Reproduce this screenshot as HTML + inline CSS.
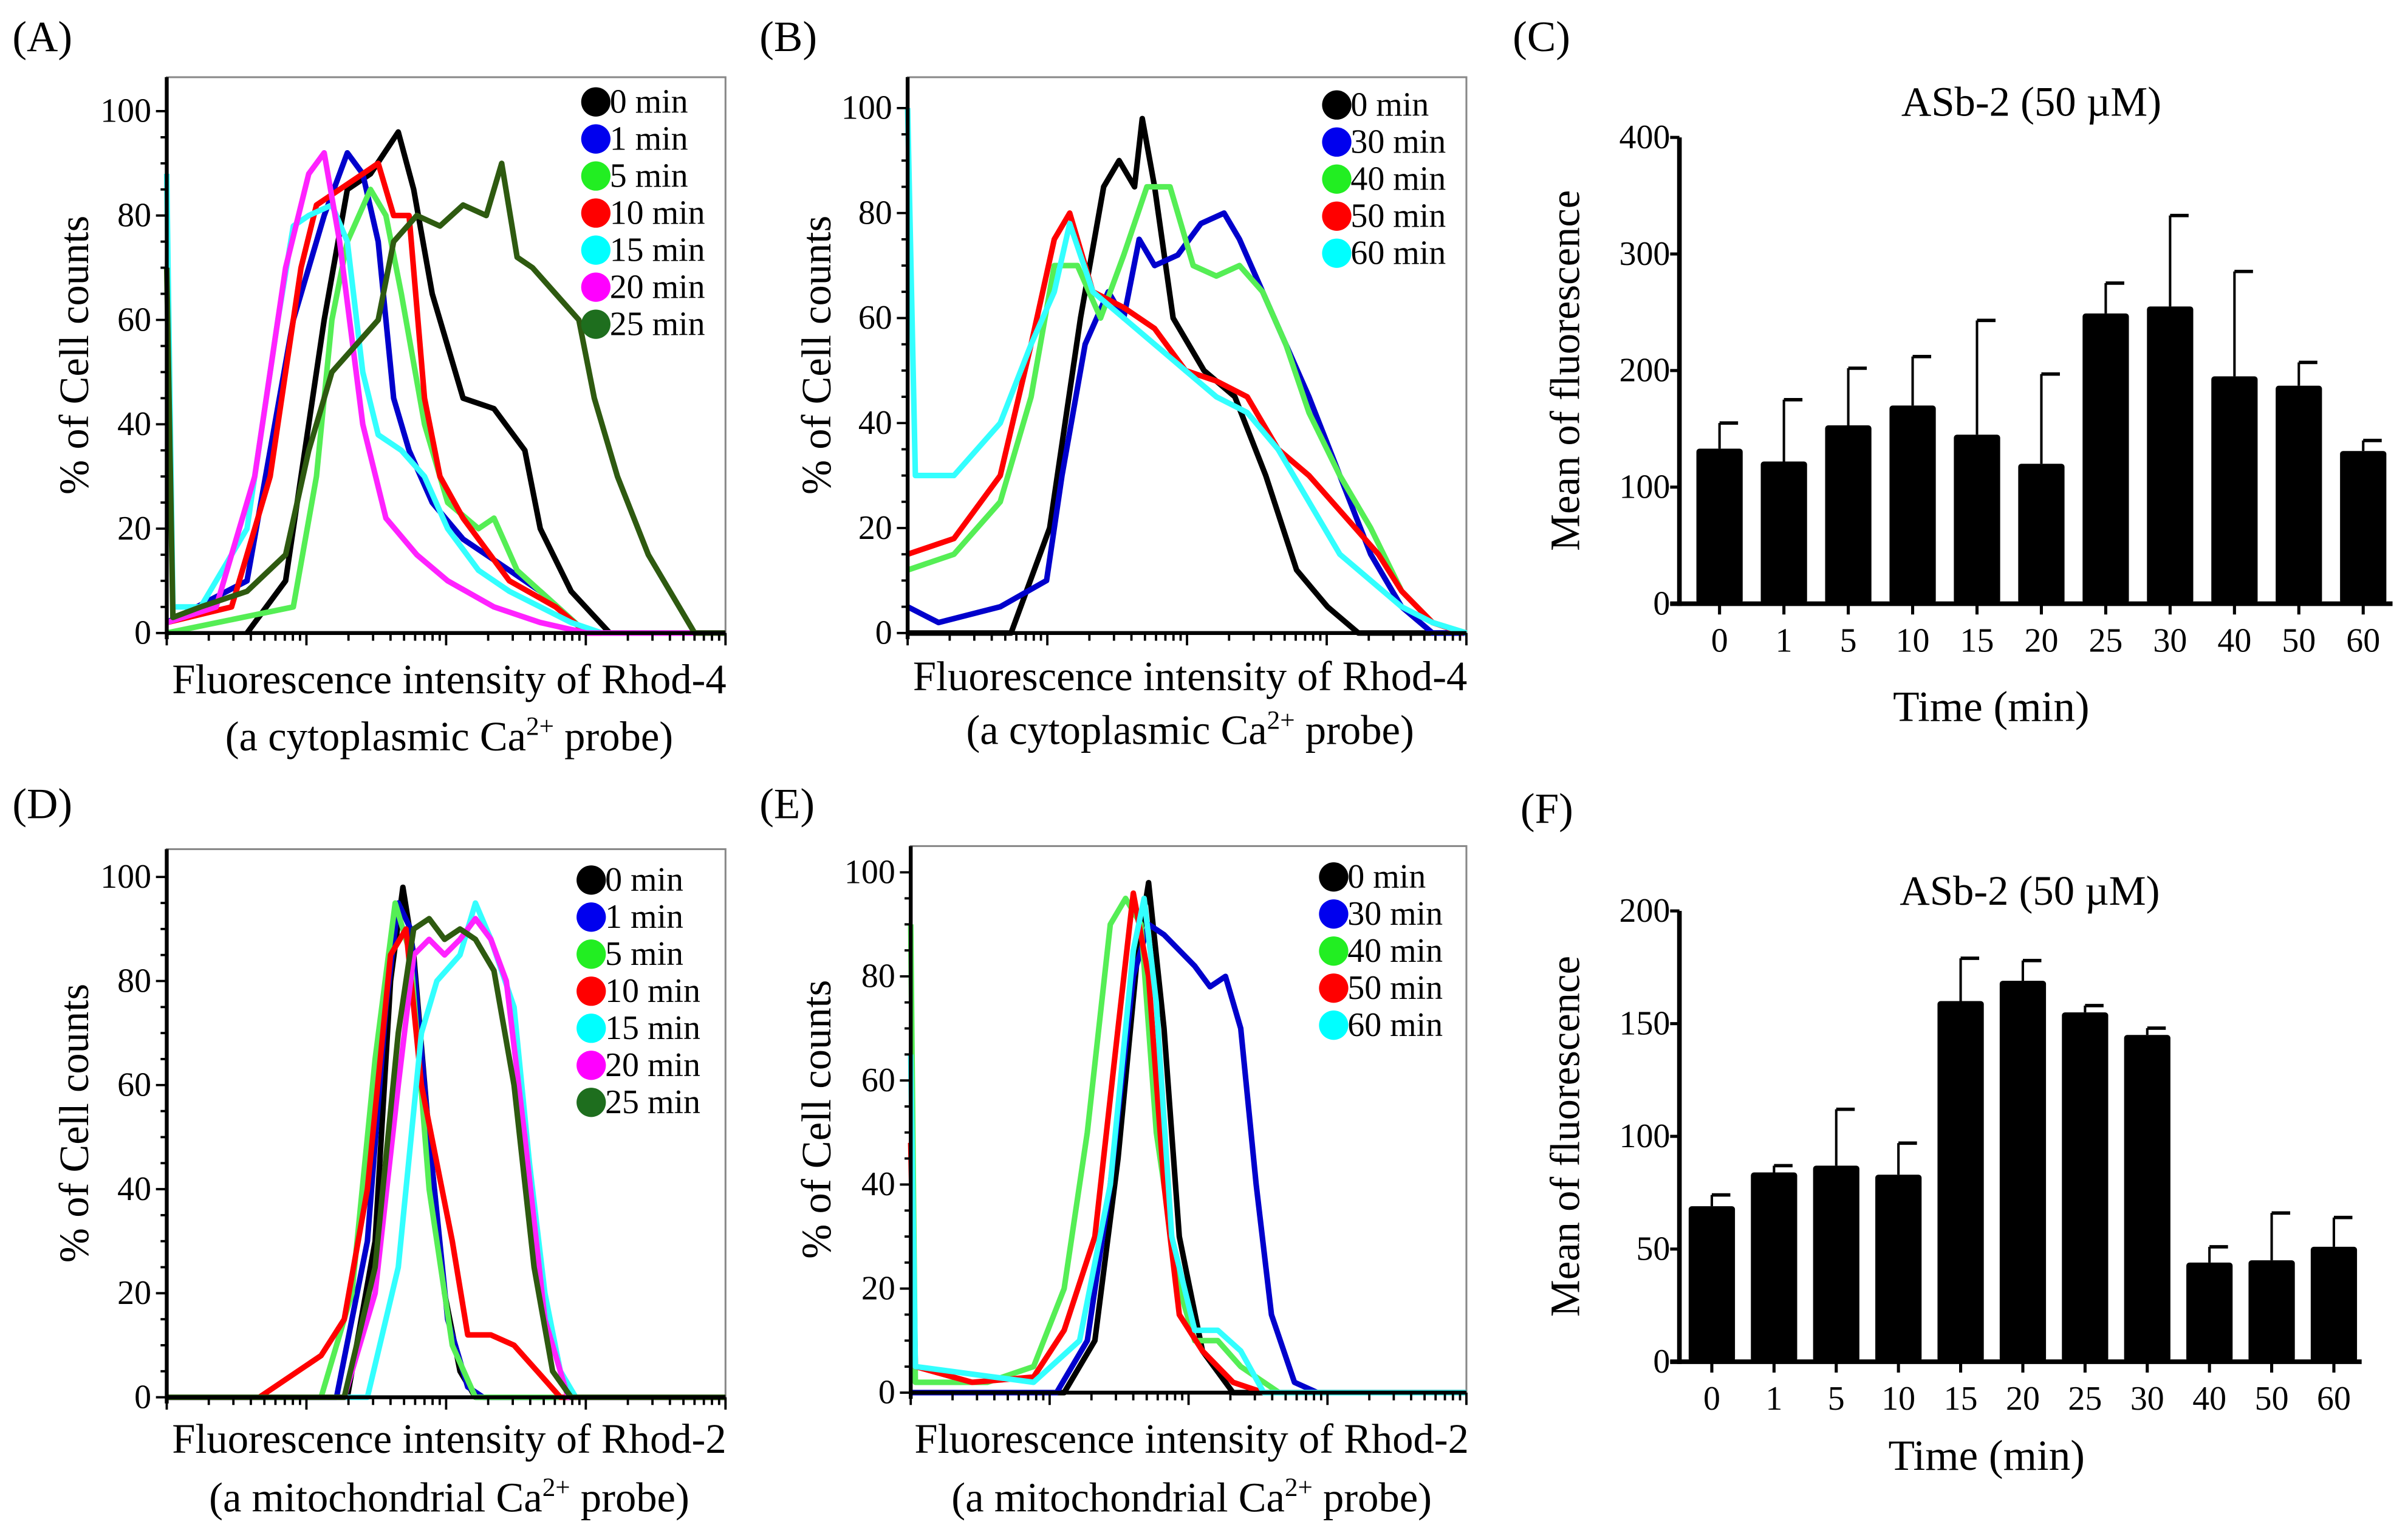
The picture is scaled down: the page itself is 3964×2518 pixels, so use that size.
<!DOCTYPE html>
<html><head><meta charset="utf-8"><style>
html,body{margin:0;padding:0;background:#fff}
svg, svg text{font-family:"Liberation Serif","Times New Roman","DejaVu Serif",serif}
</style></head><body>
<svg id="fig" width="3964" height="2513" viewBox="0 0 1560 989" font-family="Liberation Serif, Times New Roman, DejaVu Serif, serif" xmlns="http://www.w3.org/2000/svg"></svg>
<script>
// ===== Data =====
const legendA = ["0 min","1 min","5 min","10 min","15 min","20 min","25 min"];
const colorsA = ["#000","#0000ee","#22ee22","#ff0000","#00ffff","#ff00ff","#1e6e1e"];
const legendB = ["0 min","30 min","40 min","50 min","60 min"];
const colorsB = ["#000","#0000ee","#22ee22","#ff0000","#00ffff"];
const lineColorsA = ["#000","#0000cc","#55ee55","#ff0000","#33ffff","#ff22ff","#2e5a10"];
const lineColorsB = ["#000","#0000cc","#55ee55","#ff0000","#33ffff"];
// Panel A (x = channel 0-362, y = % of cell counts)
const a0 = [[52,0],[77,10],[102,60],[117,85],[132,88],[150,96],[160,85],[172,65],[192,45],[212,43],[232,35],[242,20],[262,8],[287,0],[362,0]];
const a1 = [[0,2],[52,10],[82,60],[102,80],[117,92],[127,88],[137,75],[147,45],[157,35],[172,25],[192,18],[222,12],[242,8],[272,0],[362,0]];
const a5 = [[0,0],[82,5],[97,30],[107,60],[117,75],[132,85],[142,80],[152,65],[167,40],[182,25],[202,20],[212,22],[227,12],[242,8],[272,0],[362,0]];
const a10 = [[0,2],[42,5],[67,30],[87,70],[97,82],[112,85],[127,88],[137,90],[147,80],[157,80],[167,45],[177,30],[192,22],[222,10],[252,5],[272,0],[362,0]];
const a15 = [[0,88],[4,5],[22,5],[52,20],[72,60],[82,78],[92,80],[107,82],[117,75],[127,50],[137,38],[152,35],[167,30],[182,20],[202,12],[222,8],[242,5],[262,2],[282,0],[362,0]];
const a20 = [[0,2],[32,5],[57,30],[77,70],[92,88],[102,92],[112,75],[127,40],[142,22],[162,15],[182,10],[212,5],[242,2],[272,0],[362,0]];
const a25 = [[0,70],[4,3],[22,5],[52,8],[77,15],[92,35],[107,50],[122,55],[137,60],[147,75],[162,80],[177,78],[192,82],[207,80],[217,90],[227,72],[237,70],[252,65],[267,60],[277,45],[292,30],[312,15],[332,5],[342,0],[362,0]];
const seriesA = [a0,a1,a5,a10,a15,a20,a25];
// Panel B
const b0 = [[0,0],[67,0],[92,20],[112,60],[127,85],[137,90],[147,85],[152,98],[160,85],[172,60],[192,50],[212,45],[232,30],[252,12],[272,5],[292,0],[362,0]];
const b30 = [[0,5],[20,2],[60,5],[90,10],[100,30],[115,55],[130,65],[140,60],[150,75],[160,70],[175,72],[190,78],[205,80],[215,75],[230,65],[245,55],[260,45],[280,30],[300,15],[320,5],[340,0],[362,0]];
const b40 = [[0,12],[30,15],[60,25],[80,45],[95,70],[110,70],[125,60],[140,72],[155,85],[170,85],[185,70],[200,68],[215,70],[230,65],[245,55],[260,42],[280,30],[300,20],[320,8],[340,2],[362,0]];
const b50 = [[0,15],[30,18],[60,30],[80,55],[95,75],[105,80],[120,65],[140,62],[160,58],[180,50],[200,48],[220,45],[240,35],[260,30],[275,25],[290,20],[305,15],[320,8],[340,2],[360,0]];
const b60 = [[0,100],[5,30],[30,30],[60,40],[80,55],[95,65],[105,78],[120,65],[140,60],[160,55],[180,50],[200,45],[220,42],[240,35],[260,25],[280,15],[300,10],[320,5],[340,2],[362,0]];
const seriesB = [b0,b30,b40,b50,b60];
// Panel D
const d0 = [[0,0],[117,0],[135,30],[145,80],[153,98],[160,85],[170,50],[180,20],[190,5],[200,0],[362,0]];
const d1 = [[0,0],[110,0],[130,30],[142,75],[150,95],[158,90],[170,50],[182,15],[195,2],[205,0],[362,0]];
const d5 = [[0,0],[100,0],[120,20],[135,65],[148,95],[158,85],[170,40],[185,10],[200,0],[362,0]];
const d10 = [[0,0],[60,0],[85,5],[100,8],[115,15],[130,40],[145,85],[155,90],[165,60],[175,45],[185,30],[195,12],[210,12],[225,10],[240,5],[255,0],[362,0]];
const d15 = [[0,0],[130,0],[150,25],[165,70],[175,80],[190,85],[200,95],[210,88],[225,75],[235,45],[245,20],[255,5],[265,0],[362,0]];
const d20 = [[0,0],[115,0],[135,20],[150,60],[160,85],[170,88],[180,85],[190,88],[200,92],[210,88],[220,80],[232,50],[245,15],[260,0],[362,0]];
const d25 = [[0,0],[115,0],[135,25],[150,70],[160,90],[170,92],[180,88],[190,90],[200,88],[212,82],[225,60],[238,25],[250,5],[262,0],[362,0]];
const seriesD = [d0,d1,d5,d10,d15,d20,d25];
// Panel E
const e0 = [[0,0],[100,0],[120,10],[135,45],[148,85],[155,98],[165,70],[175,30],[190,8],[210,0],[362,0]];
const e30 = [[0,0],[95,0],[115,10],[130,40],[145,80],[155,90],[165,88],[175,85],[185,82],[195,78],[205,80],[215,70],[225,40],[235,15],[250,2],[265,0],[362,0]];
const e40 = [[0,90],[3,2],[50,2],[80,5],[100,20],[115,50],[130,90],[140,95],[150,90],[160,50],[175,20],[185,10],[200,10],[215,5],[240,0],[362,0]];
const e50 = [[0,48],[3,5],[40,2],[80,3],[100,12],[120,30],[135,70],[145,96],[155,80],[165,40],[175,15],[190,8],[210,2],[230,0],[362,0]];
const e60 = [[0,65],[3,5],[80,2],[110,10],[130,40],[145,85],[152,95],[160,75],[170,30],[185,12],[200,12],[215,8],[230,0],[362,0]];
const seriesE = [e0,e30,e40,e50,e60];
// Bar charts
const barCats = ["0","1","5","10","15","20","25","30","40","50","60"];
const cMeans = [133,122,153,170,145,120,249,255,195,187,131];
const cErr = [155,175,202,212,243,197,275,333,285,207,140];
const cTicks = [0,100,200,300,400];
const fMeans = [69,84,87,83,160,169,155,145,44,45,51];
const fErr = [74,87,112,97,179,178,158,148,51,66,64];
const fTicks = [0,50,100,150,200];
const histTicks = [0,20,40,60,80,100];

// ===== Helpers =====
const svg = document.getElementById('fig');
const NS = "http://www.w3.org/2000/svg";
const FONT = '"Liberation Serif","Times New Roman","DejaVu Serif",serif';
function mk(tag, attrs, parent, text){
  const e = document.createElementNS(NS, tag);
  for (const k in attrs) e.setAttribute(k, attrs[k]);
  if (tag === 'text') e.style.fontFamily = FONT;
  if (text !== undefined) e.textContent = text;
  (parent||svg).appendChild(e);
  return e;
}

function histPanel(p){
  const g = mk('g',{});
  
  
  const xs = v => p.x0 + v*(p.x1-p.x0)/362;
  const ys = v => p.y0 - v*(p.y0-p.y100)/100;
  const fr = mk('rect',{x:p.x0,y:p.top,width:p.x1-p.x0,height:p.y0-p.top,fill:'none',stroke:'#888','stroke-width':1.2},g);
  
  
  p.series.forEach((s,i)=>{
    const d = s.map((pt,j)=>(j?'L':'M')+xs(pt[0]).toFixed(1)+' '+ys(pt[1]).toFixed(1)).join(' ');
    const path = mk('path',{d:d,fill:'none',stroke:p.lineColors[i],'stroke-width':3.6,'stroke-linejoin':'round'},g);
    
    
  });
  mk('line',{x1:p.x0,y1:p.top,x2:p.x0,y2:p.y0+4,stroke:'#000','stroke-width':2.5},g);
  mk('line',{x1:p.x0,y1:p.y0,x2:p.x1,y2:p.y0,stroke:'#000','stroke-width':2.5},g);
  for (let v=0; v<=100; v+=5){
    mk('line',{x1:p.x0-(v%20===0?7:4),y1:ys(v),x2:p.x0,y2:ys(v),stroke:'#000','stroke-width':1.5},g);
  }
  histTicks.forEach(v=>{
    const t = mk('text',{x:p.x0-10,y:ys(v)+7,'text-anchor':'end','font-size':22},g,String(v));
    
    
  });
  const dec = (p.x1-p.x0)/4;
  for (let k=0;k<4;k++){
    for (let m=1;m<10;m++){
      const x = p.x0 + dec*(k+Math.log10(m));
      mk('line',{x1:x,y1:p.y0,x2:x,y2:p.y0+(m===1?8:5),stroke:'#000','stroke-width':1.5},g);
    }
  }
  mk('line',{x1:p.x1,y1:p.y0,x2:p.x1,y2:p.y0+8,stroke:'#000','stroke-width':1.5},g);
  p.labels.forEach((lab,i)=>{
    const y = p.ly + i*24;
    const c = mk('circle',{cx:p.lx,cy:y,r:9.5,fill:p.colors[i]},g);
    
    
    const t = mk('text',{x:p.lx+9,y:y+7,'font-size':22},g,lab);
    
    
  });
  const cy = (p.top+p.y0)/2;
  const yl = mk('text',{x:p.ylx,y:cy,'font-size':27,'text-anchor':'middle',transform:`rotate(-90 ${p.ylx} ${cy})`},g,'% of Cell counts');
  
  
  const xc = (p.x0+p.x1)/2 + 2;
  const x1 = mk('text',{x:xc,y:p.xl1,'font-size':27,'text-anchor':'middle'},g,'Fluorescence intensity of '+p.probe);
  
  
  const x2 = mk('text',{x:xc,y:p.xl2,'font-size':27,'text-anchor':'middle'},g);
  
  
  x2.appendChild(document.createTextNode('(a '+p.kind+' Ca'));
  mk('tspan',{'font-size':17,dy:-10},x2,'2+');
  mk('tspan',{dy:10},x2,' probe)');
  const pl = mk('text',{x:p.letterX,y:p.letterY,'font-size':28},g,p.letter);
  
  
}

function barPanel(p){
  const g = mk('g',{});
  
  
  const ys = v => p.y0 - v*(p.y0-p.yTop)/p.max;
  const xs = i => p.xFirst + i*p.step;
  p.means.forEach((m,i)=>{
    const x = xs(i);
    const eb = mk('line',{x1:x,y1:ys(m),x2:x,y2:ys(p.err[i]),stroke:'#000','stroke-width':1.6},g);
    
    
    mk('line',{x1:x,y1:ys(p.err[i]),x2:x+12,y2:ys(p.err[i]),stroke:'#000','stroke-width':2.2},g);
    const r = mk('rect',{x:x-15,y:ys(m),width:30,height:p.y0-ys(m),fill:'#000',rx:2},g);
    
    
    mk('line',{x1:x,y1:p.y0,x2:x,y2:p.y0+7,stroke:'#000','stroke-width':2},g);
    const t = mk('text',{x:x,y:p.y0+31,'text-anchor':'middle','font-size':22},g,barCats[i]);
    
    
  });
  mk('line',{x1:p.x0,y1:p.yTop,x2:p.x0,y2:p.y0+1.5,stroke:'#000','stroke-width':3},g);
  mk('line',{x1:p.x0-6,y1:p.y0,x2:p.x1,y2:p.y0,stroke:'#000','stroke-width':3},g);
  p.ticks.forEach(v=>{
    mk('line',{x1:p.x0-6,y1:ys(v),x2:p.x0,y2:ys(v),stroke:'#000','stroke-width':2},g);
    const t = mk('text',{x:p.x0-6,y:ys(v)+7,'text-anchor':'end','font-size':22},g,String(v));
    
    
  });
  const ti = mk('text',{x:p.titleX,y:p.titleY,'text-anchor':'middle','font-size':27},g,'ASb-2 (50 \u00b5M)');
  
  
  const cy = (p.y0+p.yTop)/2;
  const yl = mk('text',{x:1023,y:cy,'text-anchor':'middle','font-size':27,transform:`rotate(-90 1023 ${cy})`},g,'Mean of fluorescence');
  
  
  const xl = mk('text',{x:p.xlX,y:p.xlY,'text-anchor':'middle','font-size':28},g,'Time (min)');
  
  
  const pl = mk('text',{x:p.letterX,y:p.letterY,'font-size':28},g,p.letter);
  
  
}

histPanel({name:'panel-a',letter:'(A)',letterX:8,letterY:33,x0:108,x1:470,top:50,y0:410,y100:72,series:seriesA,lineColors:lineColorsA,colors:colorsA,labels:legendA,lx:386,ly:66,ylx:57,xl1:449,xl2:486,probe:'Rhod-4',kind:'cytoplasmic'});
histPanel({name:'panel-b',letter:'(B)',letterX:492,letterY:33,x0:588,x1:950,top:50,y0:410,y100:70,series:seriesB,lineColors:lineColorsB,colors:colorsB,labels:legendB,lx:866,ly:68,ylx:538,xl1:447,xl2:482,probe:'Rhod-4',kind:'cytoplasmic'});
histPanel({name:'panel-d',letter:'(D)',letterX:8,letterY:530,x0:108,x1:470,top:550,y0:905,y100:568,series:seriesD,lineColors:lineColorsA,colors:colorsA,labels:legendA,lx:383,ly:570,ylx:57,xl1:941,xl2:979,probe:'Rhod-2',kind:'mitochondrial'});
histPanel({name:'panel-e',letter:'(E)',letterX:492,letterY:530,x0:590,x1:950,top:548,y0:902,y100:565,series:seriesE,lineColors:lineColorsB,colors:colorsB,labels:legendB,lx:864,ly:568,ylx:538,xl1:941,xl2:979,probe:'Rhod-2',kind:'mitochondrial'});
barPanel({name:'panel-c',letter:'(C)',letterX:980,letterY:33,x0:1088,x1:1550,y0:391,yTop:89,max:400,ticks:cTicks,means:cMeans,err:cErr,xFirst:1114,step:41.7,titleX:1316,titleY:75,xlX:1290,xlY:467});
barPanel({name:'panel-f',letter:'(F)',letterX:985,letterY:533,x0:1088,x1:1530,y0:882,yTop:590,max:200,ticks:fTicks,means:fMeans,err:fErr,xFirst:1109,step:40.3,titleX:1315,titleY:586,xlX:1287,xlY:952});
</script>
</body></html>
